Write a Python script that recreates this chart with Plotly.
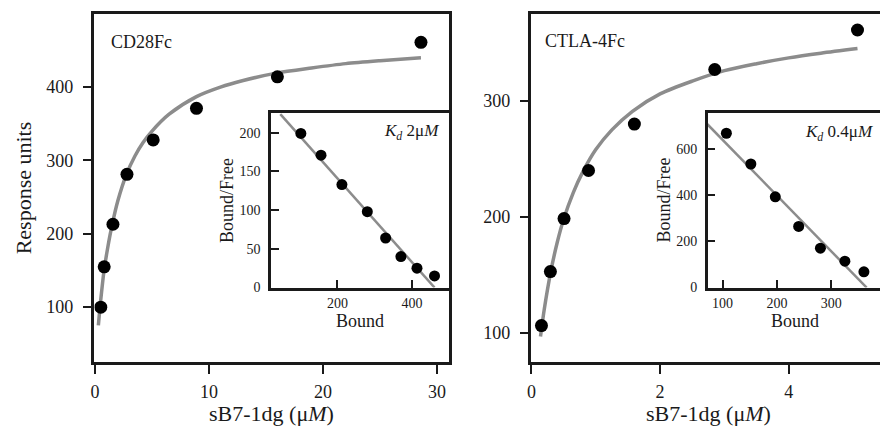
import plotly.graph_objects as go

# ---- data ----
cd28_conc = [0.5, 0.8, 1.57, 2.8, 5.1, 8.9, 16.0, 28.6]
cd28_resp = [100, 155, 213, 281, 328, 371, 414, 461]
cd28_fit_x = [0.29, 0.5, 0.79, 1.1, 1.51, 2.0, 2.73, 3.5, 4.2, 5.0, 6.5, 8.9, 11, 13, 15.9, 19, 22, 25, 28.6]
cd28_fit_y = [75, 110, 150, 180, 213, 245, 280, 306, 324, 340, 363, 387, 400, 409, 419, 426, 432, 436, 440]

cd28_bound = [102, 156, 212, 280, 329, 370, 413, 460]
cd28_bf = [199, 171, 133, 98, 64, 40, 25, 15]
cd28_line_x = [47, 460]
cd28_line_y = [224, 0]

ctla_conc = [0.155, 0.294, 0.506, 0.887, 1.6, 2.85, 5.07]
ctla_resp = [106.5, 153, 198.6, 240, 280, 327, 361]
ctla_fit_x = [0.14, 0.2, 0.3, 0.4, 0.5, 0.65, 0.8, 1.0, 1.25, 1.57, 2.0, 2.5, 3.0, 3.5, 4.0, 4.5, 5.07]
ctla_fit_y = [97, 121, 153, 178, 198, 221, 239, 258, 275, 291, 306, 317, 326, 332, 337, 341, 345]

ctla_bound = [107, 152, 197, 240, 280, 325, 360]
ctla_bf = [667, 534, 392, 264, 170, 114, 68]
ctla_line_x = [72, 365]
ctla_line_y = [706, 0]

W, H = 880, 430
FONT = "Liberation Serif"
INK = "#1a1a1a"
GRAY = "#8c8c8c"

def px(x):
    return x / W

def py(y):
    return 1 - y / H

fig = go.Figure()

fig.add_trace(go.Scatter(x=cd28_fit_x, y=cd28_fit_y, mode="lines", line=dict(color=GRAY, width=3.5, shape="spline", smoothing=0.8),
                         xaxis="x", yaxis="y", showlegend=False))
fig.add_trace(go.Scatter(x=cd28_conc, y=cd28_resp, mode="markers", marker=dict(color="black", size=13),
                         xaxis="x", yaxis="y", showlegend=False))
fig.add_trace(go.Scatter(x=cd28_line_x, y=cd28_line_y, mode="lines", line=dict(color=GRAY, width=2.5),
                         xaxis="x2", yaxis="y2", showlegend=False))
fig.add_trace(go.Scatter(x=cd28_bound, y=cd28_bf, mode="markers", marker=dict(color="black", size=11),
                         xaxis="x2", yaxis="y2", showlegend=False))

fig.add_trace(go.Scatter(x=ctla_fit_x, y=ctla_fit_y, mode="lines", line=dict(color=GRAY, width=3.5, shape="spline", smoothing=0.8),
                         xaxis="x3", yaxis="y3", showlegend=False))
fig.add_trace(go.Scatter(x=ctla_conc, y=ctla_resp, mode="markers", marker=dict(color="black", size=13),
                         xaxis="x3", yaxis="y3", showlegend=False))
fig.add_trace(go.Scatter(x=ctla_line_x, y=ctla_line_y, mode="lines", line=dict(color=GRAY, width=2.5),
                         xaxis="x4", yaxis="y4", showlegend=False))
fig.add_trace(go.Scatter(x=ctla_bound, y=ctla_bf, mode="markers", marker=dict(color="black", size=11),
                         xaxis="x4", yaxis="y4", showlegend=False))

main_tick = dict(showline=True, linecolor=INK, linewidth=2.5, ticks="outside", ticklen=9, tickwidth=2,
                 tickcolor=INK, showgrid=False, zeroline=False,
                 tickfont=dict(family=FONT, size=18, color=INK))
inset_tick = dict(showline=True, linecolor=INK, linewidth=2.5, ticks="inside", ticklen=8, tickwidth=2,
                  tickcolor=INK, showgrid=False, zeroline=False,
                  tickfont=dict(family=FONT, size=14, color=INK))

fig.update_layout(
    width=W, height=H,
    margin=dict(l=0, r=0, t=0, b=0),
    paper_bgcolor="white", plot_bgcolor="white",
    showlegend=False,
    xaxis=dict(domain=[px(90), px(447)], anchor="y", range=[-0.05, 31.1], tickvals=[0, 10, 20, 30],
               mirror=True, ticklabelstandoff=3, **main_tick),
    yaxis=dict(domain=[py(369), py(14)], anchor="x", range=[25, 500], tickvals=[100, 200, 300, 400],
               mirror=True, ticklabelstandoff=6, **main_tick),
    xaxis2=dict(domain=[px(267.5), px(447)], anchor="y2", range=[22, 500], tickvals=[200, 400],
                mirror=True, ticklabelstandoff=1, **inset_tick),
    yaxis2=dict(domain=[py(293), py(115.5)], anchor="x2", range=[0, 225], tickvals=[0, 50, 100, 150, 200],
                mirror=True, ticklabelstandoff=5, **inset_tick),
    xaxis3=dict(domain=[px(529.5), 1.0], anchor="y3", range=[0, 5.42], tickvals=[0, 2, 4],
                mirror=True, ticklabelstandoff=3, **main_tick),
    yaxis3=dict(domain=[py(369), py(14)], anchor="x3", range=[75, 375], tickvals=[100, 200, 300],
                ticklabelstandoff=6, **main_tick),
    xaxis4=dict(domain=[px(706.7), 1.0], anchor="y4", range=[72.6, 389.6], tickvals=[100, 200, 300],
                mirror=True, ticklabelstandoff=1, **inset_tick),
    yaxis4=dict(domain=[py(293), py(115.5)], anchor="x4", range=[0, 753], tickvals=[0, 200, 400, 600],
                ticklabelstandoff=5, **inset_tick),
)

def ann(text, x, y, size, xanchor="center", yanchor="middle", angle=0):
    fig.add_annotation(text=text, x=px(x), y=py(y), xref="paper", yref="paper", showarrow=False,
                       xanchor=xanchor, yanchor=yanchor, textangle=angle,
                       font=dict(family=FONT, size=size, color=INK))

ann("Response units", 19, 191, 22, angle=-90)
ann("sB7-1dg (μ<i>M</i>)", 268.5, 421, 22)
ann("sB7-1dg (μ<i>M</i>)", 707.5, 421, 22)
ann("CD28Fc", 105, 43, 18, xanchor="left")
ann("CTLA-4Fc", 541, 42, 18, xanchor="left")
ann("Bound", 357, 327, 18)
ann("Bound", 795, 327, 18)
ann("Bound/Free", 223, 204, 18, angle=-90)
ann("Bound/Free", 663, 204, 18, angle=-90)
ann("<i>K<sub>d</sub></i> 2μ<i>M</i>", 438, 135, 17, xanchor="right")
ann("<i>K<sub>d</sub></i> 0.4μ<i>M</i>", 875, 136, 17, xanchor="right")

fig.write_html("out.html",
               config={"displayModeBar": False},
               post_script="document.body.style.margin='0';document.body.style.overflow='hidden';")
